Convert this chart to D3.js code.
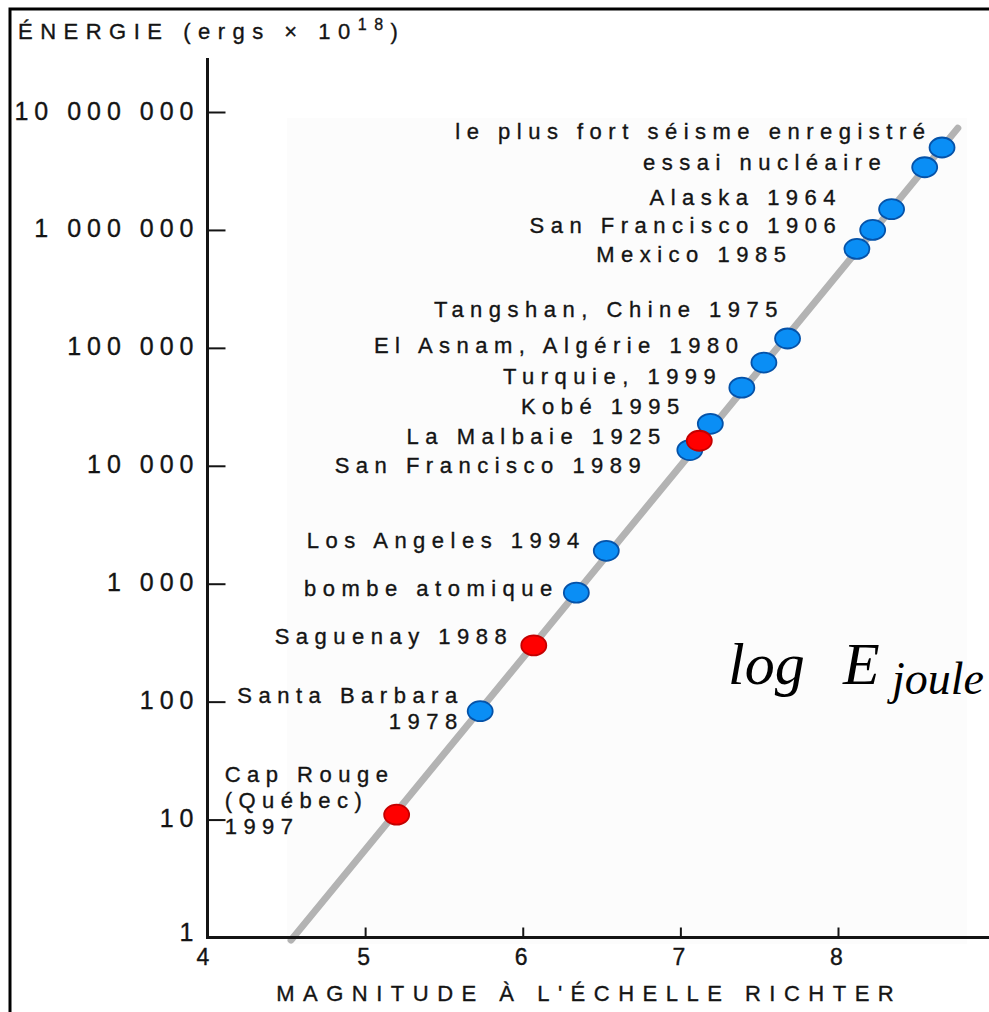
<!DOCTYPE html>
<html>
<head>
<meta charset="utf-8">
<script src="https://cdn.jsdelivr.net/npm/d3@7"></script>
<style>
  body { margin: 0; background: #fff; }
  svg { display: block; }
</style>
</head>
<body>
<svg id="chart" width="989" height="1012"></svg>
<script>
// Séismes et explosions : magnitude (Richter) vs énergie libérée (ergs × 10^18)
const eventNames = [
  "le plus fort séisme enregistré",
  "essai nucléaire",
  "Alaska 1964",
  "San Francisco 1906",
  "Mexico 1985",
  "Tangshan, Chine 1975",
  "El Asnam, Algérie 1980",
  "Turquie, 1999",
  "Kobé 1995",
  "San Francisco 1989",
  "La Malbaie 1925",
  "Los Angeles 1994",
  "bombe atomique",
  "Saguenay 1988",
  "Santa Barbara\n1978",
  "Cap Rouge\n(Québec)\n1997"
];
const magnitudes = [8.66, 8.55, 8.34, 8.22, 8.12, 7.68, 7.53, 7.39, 7.19, 7.06, 7.12, 6.53, 6.34, 6.07, 5.73, 5.20];
const energies   = [5.0e6, 3.4e6, 1.5e6, 1.0e6, 6.9e5, 1.2e5, 7.5e4, 4.6e4, 2.27e4, 1.36e4, 1.63e4, 1.9e3, 840, 300, 83, 11];
const regions    = ["monde", "monde", "monde", "monde", "monde", "monde", "monde", "monde", "monde", "monde",
                    "québec", "monde", "monde", "québec", "monde", "québec"];

// Droite magnitude–énergie
const trendMagnitude = [4.53, 8.76];
const trendEnergy    = [0.95, 7.3e6];

// Graduations
const magnitudeTicks = [4, 5, 6, 7, 8];
const energyTicks    = [1, 10, 100, 1000, 1e4, 1e5, 1e6, 1e7];

// Placement des étiquettes par rapport à chaque point (px)
const labelLayout = [
  { dx: -17, dy: -16, anchor: "end" },
  { dx: -44, dy: -5,  anchor: "end" },
  { dx: -56, dy: -12, anchor: "end" },
  { dx: -37, dy: -5,  anchor: "end" },
  { dx: -71, dy: 5,   anchor: "end" },
  { dx: -10, dy: -29, anchor: "end" },
  { dx: -26, dy: -18, anchor: "end" },
  { dx: -26, dy: -12, anchor: "end" },
  { dx: -31, dy: -18, anchor: "end" },
  { dx: -49, dy: 15,  anchor: "end" },
  { dx: -39, dy: -5,  anchor: "end" },
  { dx: -27, dy: -11, anchor: "end" },
  { dx: -24, dy: -5,  anchor: "end" },
  { dx: -27, dy: -9,  anchor: "end" },
  { dx: -23, dy: -16, anchor: "end" },
  { dx: -172, dy: -41, anchor: "start" }
];

const W = 989, H = 1012;
const FONT = "'Liberation Sans', Arial, Helvetica, sans-serif";
const INK = "#141414";

const svg = d3.select("#chart");
svg.append("rect").attr("width", W).attr("height", H).attr("fill", "#fff");

const x = d3.scaleLinear().domain([4, 8]).range([207.5, 838]);
const y = d3.scaleLog().domain([1, 1e7]).range([937.5, 112]);

// léger fond du panneau
svg.append("rect")
  .attr("x", 287).attr("y", 118).attr("width", 680).attr("height", 826)
  .attr("fill", "#fcfcfc");

// cadre
svg.append("path")
  .attr("d", `M10,${H} V9 H${W}`)
  .attr("fill", "none").attr("stroke", "#000").attr("stroke-width", 3);

// droite grise
svg.append("path")
  .datum(d3.zip(trendMagnitude, trendEnergy))
  .attr("d", d3.line().x(d => x(d[0])).y(d => y(d[1])))
  .attr("fill", "none")
  .attr("stroke", "#b3b3b3")
  .attr("stroke-width", 7)
  .attr("stroke-linecap", "round");

// style commun des textes (trait légèrement épaissi)
function ink(sel) {
  return sel.attr("fill", INK).attr("stroke", INK).attr("stroke-width", 0.35);
}

// axe des énergies
const fr = d3.formatLocale({ decimal: ",", thousands: " ", grouping: [3], currency: ["", " €"] });
const yLS = 6;
const yAxisG = svg.append("g")
  .attr("transform", `translate(${x(4)},0)`)
  .call(d3.axisLeft(y)
    .tickValues(energyTicks)
    .tickFormat(fr.format(","))
    .tickSizeInner(-18)
    .tickSizeOuter(0)
    .tickPadding(14 - yLS));
yAxisG.select(".domain").remove();
yAxisG.selectAll(".tick line").attr("stroke", INK).attr("stroke-width", 2);
ink(yAxisG.selectAll(".tick text"))
  .attr("font-family", FONT)
  .attr("font-size", 25)
  .attr("letter-spacing", yLS)
  .attr("dy", d => d === 1 ? "0.1em" : "0.28em");
yAxisG.selectAll(".tick").filter(d => d === 1).select("line").remove();

// axe des magnitudes
const xAxisG = svg.append("g")
  .attr("transform", `translate(0,${y(1)})`)
  .call(d3.axisBottom(x)
    .tickValues(magnitudeTicks)
    .tickFormat(d3.format("d"))
    .tickSizeInner(-10)
    .tickSizeOuter(0)
    .tickPadding(11));
xAxisG.select(".domain").remove();
xAxisG.selectAll(".tick line").attr("stroke", INK).attr("stroke-width", 2);
ink(xAxisG.selectAll(".tick text"))
  .attr("font-family", FONT)
  .attr("font-size", 23)
  .attr("dx", d => d === 4 ? -5 : -2);

// lignes d'axes
svg.append("path")
  .attr("d", `M${x(4)},58 V${y(1)} H${W}`)
  .attr("fill", "none").attr("stroke", INK).attr("stroke-width", 3);

// titres d'axes
const titleLS = 7.5;
const yTitle = ink(svg.append("text"))
  .attr("x", 18).attr("y", 39)
  .attr("font-family", FONT).attr("font-size", 22)
  .attr("letter-spacing", titleLS);
yTitle.append("tspan").text("ÉNERGIE (ergs × 10");
yTitle.append("tspan").attr("font-size", 16).attr("dy", -9).text("18");
yTitle.append("tspan").attr("dy", 9).text(")");

const xLS = 8.5;
ink(svg.append("text"))
  .attr("x", 585 + xLS / 2).attr("y", 1001)
  .attr("text-anchor", "middle")
  .attr("font-family", FONT).attr("font-size", 22)
  .attr("letter-spacing", xLS)
  .text("MAGNITUDE À L'ÉCHELLE RICHTER");

// points
const events = eventNames.map((name, i) => ({
  name, m: magnitudes[i], e: energies[i], region: regions[i], layout: labelLayout[i]
}));
const drawOrder = events.slice().sort((a, b) => (a.region === "québec") - (b.region === "québec"));

svg.append("g").selectAll("ellipse")
  .data(drawOrder)
  .join("ellipse")
  .attr("cx", d => x(d.m))
  .attr("cy", d => y(d.e))
  .attr("rx", 12.5)
  .attr("ry", 10)
  .attr("fill", d => d.region === "québec" ? "#ff0000" : "#0a8ef5")
  .attr("stroke", d => d.region === "québec" ? "#c40000" : "#0552a8")
  .attr("stroke-width", 1.8);

// étiquettes
const LS = 6.5;
const lineH = 26;
const labels = ink(svg.append("g"))
  .attr("font-family", FONT)
  .attr("font-size", 22)
  .attr("letter-spacing", LS);

events.forEach(d => {
  const L = d.layout;
  const tx = x(d.m) + L.dx + (L.anchor === "end" ? LS : 0);
  const ty = y(d.e) + L.dy;
  const t = labels.append("text")
    .attr("text-anchor", L.anchor)
    .attr("x", tx).attr("y", ty);
  d.name.split("\n").forEach((line, k) => {
    t.append("tspan").attr("x", tx).attr("dy", k === 0 ? "0.36em" : lineH).text(line);
  });
});

// formule
const formula = svg.append("g")
  .attr("font-family", "'Liberation Serif', 'Times New Roman', serif")
  .attr("font-style", "italic")
  .attr("fill", "#000");
formula.append("text").attr("x", 728).attr("y", 684).attr("font-size", 60).text("log");
formula.append("text").attr("x", 843).attr("y", 684).attr("font-size", 60).text("E");
formula.append("text").attr("x", 892).attr("y", 694).attr("font-size", 46).text("joule");
</script>
</body>
</html>
